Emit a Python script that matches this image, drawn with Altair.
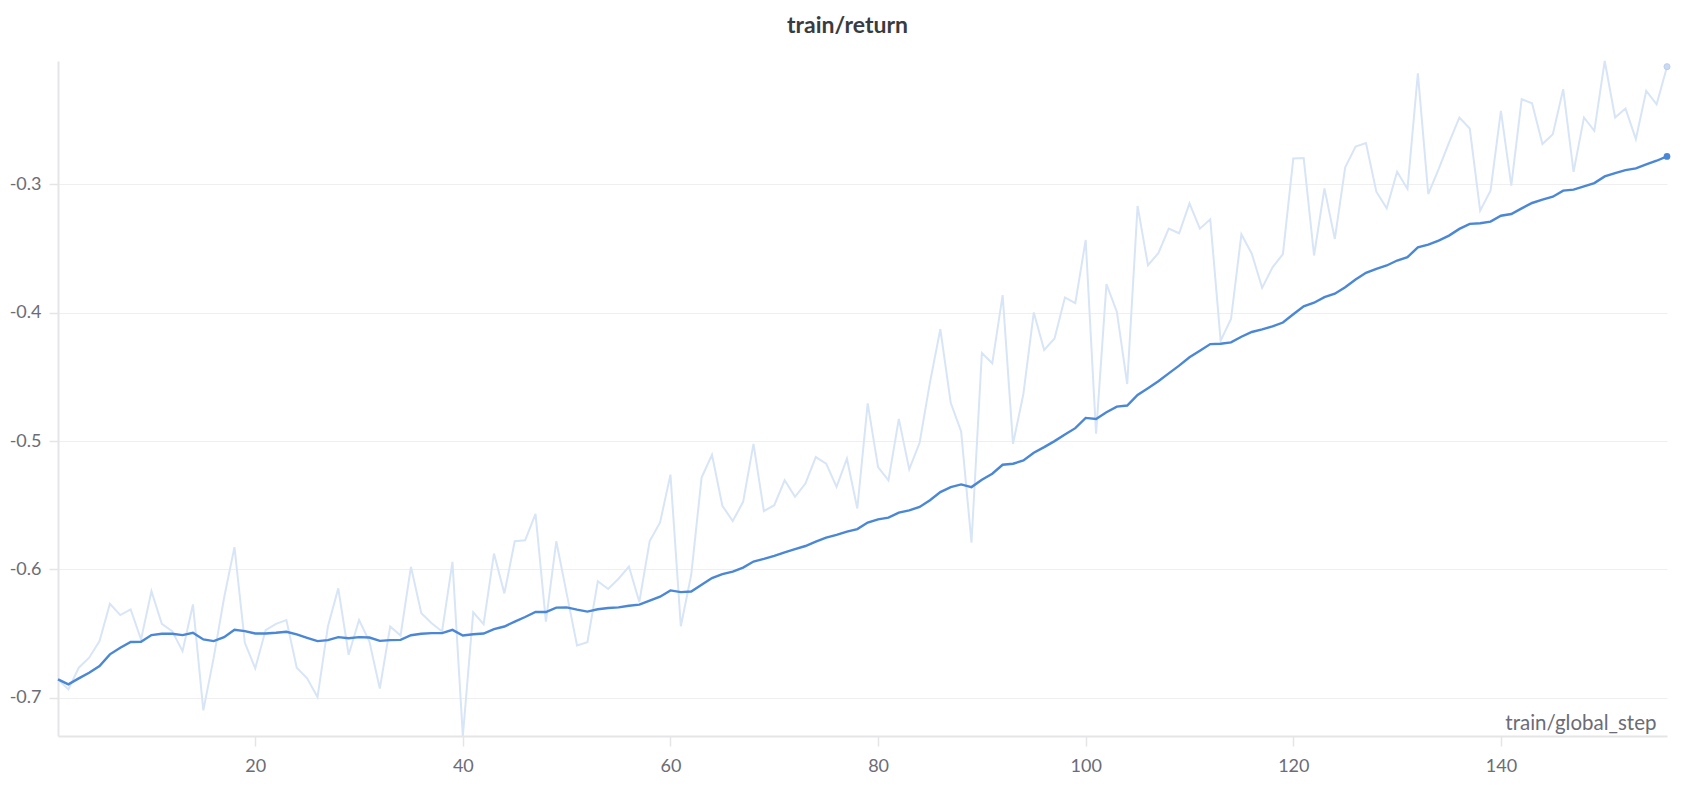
import altair as alt
import pandas as pd

# ---- data ----
steps = list(range(1, 157))

raw_return = [
    -0.6856, -0.6934, -0.6765, -0.6687, -0.6558, -0.6267, -0.6355, -0.6311, -0.6545, -0.6169,
    -0.6423, -0.6480, -0.6636, -0.6272, -0.7097, -0.6687, -0.6220, -0.5826, -0.6571, -0.6770,
    -0.6472, -0.6423, -0.6394, -0.6765, -0.6848, -0.6994, -0.6444, -0.6147, -0.6664, -0.6393,
    -0.6561, -0.6928, -0.6444, -0.6514, -0.5979, -0.6341, -0.6419, -0.6483, -0.5941, -0.7297,
    -0.6333, -0.6426, -0.5876, -0.6186, -0.5780, -0.5773, -0.5566, -0.6406, -0.5780, -0.6186,
    -0.6592, -0.6566, -0.6092, -0.6152, -0.6072, -0.5977, -0.6253, -0.5778, -0.5633, -0.5261,
    -0.6442, -0.6041, -0.5284, -0.5106, -0.5504, -0.5623, -0.5473, -0.5021, -0.5545, -0.5499,
    -0.5305, -0.5434, -0.5331, -0.5124, -0.5176, -0.5357, -0.5137, -0.5525, -0.4706, -0.5202,
    -0.5306, -0.4827, -0.5220, -0.5013, -0.4542, -0.4127, -0.4702, -0.4925, -0.5790, -0.4314,
    -0.4394, -0.3863, -0.5021, -0.4632, -0.3998, -0.4290, -0.4200, -0.3881, -0.3925, -0.3433,
    -0.4943, -0.3777, -0.3992, -0.4555, -0.3168, -0.3630, -0.3536, -0.3345, -0.3381, -0.3148,
    -0.3345, -0.3272, -0.4218, -0.4049, -0.3389, -0.3540, -0.3806, -0.3646, -0.3543, -0.2799,
    -0.2795, -0.3554, -0.3031, -0.3425, -0.2868, -0.2705, -0.2679, -0.3057, -0.3187, -0.2902,
    -0.3036, -0.2135, -0.3075, -0.2881, -0.2674, -0.2479, -0.2565, -0.3205, -0.3049, -0.2427,
    -0.3010, -0.2337, -0.2368, -0.2686, -0.2609, -0.2259, -0.2902, -0.2479, -0.2583, -0.2039,
    -0.2479, -0.2409, -0.2648, -0.2272, -0.2376, -0.2083,
]

smoothed_return = [
    -0.6856, -0.6895, -0.6848, -0.6804, -0.6752, -0.6661, -0.6610, -0.6565, -0.6563, -0.6511,
    -0.6501, -0.6501, -0.6511, -0.6493, -0.6545, -0.6558, -0.6527, -0.6470, -0.6480, -0.6498,
    -0.6498, -0.6493, -0.6485, -0.6506, -0.6532, -0.6558, -0.6550, -0.6527, -0.6535, -0.6527,
    -0.6530, -0.6556, -0.6550, -0.6548, -0.6512, -0.6501, -0.6496, -0.6496, -0.6470, -0.6514,
    -0.6504, -0.6499, -0.6465, -0.6444, -0.6406, -0.6370, -0.6331, -0.6331, -0.6297, -0.6295,
    -0.6313, -0.6328, -0.6310, -0.6300, -0.6295, -0.6282, -0.6274, -0.6243, -0.6212, -0.6163,
    -0.6176, -0.6171, -0.6119, -0.6067, -0.6036, -0.6016, -0.5985, -0.5938, -0.5917, -0.5894,
    -0.5866, -0.5842, -0.5817, -0.5783, -0.5752, -0.5731, -0.5705, -0.5685, -0.5634, -0.5609,
    -0.5596, -0.5557, -0.5539, -0.5513, -0.5461, -0.5397, -0.5358, -0.5337, -0.5358, -0.5301,
    -0.5254, -0.5184, -0.5176, -0.5151, -0.5091, -0.5047, -0.5000, -0.4948, -0.4899, -0.4819,
    -0.4827, -0.4775, -0.4731, -0.4723, -0.4640, -0.4588, -0.4534, -0.4472, -0.4412, -0.4347,
    -0.4296, -0.4244, -0.4241, -0.4231, -0.4187, -0.4150, -0.4130, -0.4106, -0.4076, -0.4012,
    -0.3950, -0.3922, -0.3878, -0.3852, -0.3801, -0.3741, -0.3689, -0.3658, -0.3632, -0.3593,
    -0.3567, -0.3490, -0.3469, -0.3438, -0.3399, -0.3347, -0.3308, -0.3303, -0.3290, -0.3244,
    -0.3231, -0.3187, -0.3145, -0.3119, -0.3096, -0.3049, -0.3041, -0.3016, -0.2990, -0.2938,
    -0.2912, -0.2889, -0.2876, -0.2845, -0.2816, -0.2782,
]

x_ticks = [20, 40, 60, 80, 100, 120, 140]
y_ticks = [-0.7, -0.6, -0.5, -0.4, -0.3]

df = pd.DataFrame({"step": steps, "raw": raw_return, "smooth": smoothed_return})
last = df.tail(1)

FONT = "Source Sans Pro, Lato, sans-serif"
LABEL_COLOR = "#6b6c76"
AXIS_COLOR = "#e5e5e7"
RAW_COLOR = "#d8e5f6"
SMOOTH_COLOR = "#4a87d6"

W, H = 1609, 675

x_scale = alt.Scale(domain=[min(steps), max(steps)], nice=False, zero=False)
y_scale = alt.Scale(domain=[min(raw_return), max(raw_return)], nice=False, zero=False)

x_enc = alt.X(
    "step:Q",
    scale=x_scale,
    axis=alt.Axis(
        values=x_ticks,
        format="d",
        grid=False,
        title="train/global_step",
        titleX=W - 11,
        titleY=-7,
        titleAlign="right",
        titleBaseline="alphabetic",
        titleAnchor="end",
        titleFont=FONT,
        titleFontSize=20.5,
        titleFontWeight="normal",
        titleColor=LABEL_COLOR,
        labelPadding=11,
        tickSize=10,
    ),
)

y_axis = alt.Axis(
    values=y_ticks,
    labelExpr="replace(format(datum.value, '.1f'), '\u2212', '-')",
    grid=True,
    gridColor="#efeff1",
    gridWidth=1,
    title=None,
    tickSize=9,
    labelPadding=8,
)

raw_line = alt.Chart(df).mark_line(color=RAW_COLOR, strokeWidth=2).encode(
    x=x_enc,
    y=alt.Y("raw:Q", scale=y_scale, axis=y_axis),
)

smooth_line = alt.Chart(df).mark_line(color=SMOOTH_COLOR, strokeWidth=2.4).encode(
    x=alt.X("step:Q", scale=x_scale),
    y=alt.Y("smooth:Q", scale=y_scale),
)

raw_end = alt.Chart(last).mark_point(
    filled=True, color="#c9daf2", size=36, opacity=1, stroke="#b9cfee", strokeWidth=1
).encode(
    x=alt.X("step:Q", scale=x_scale),
    y=alt.Y("raw:Q", scale=y_scale),
)

smooth_end = alt.Chart(last).mark_point(
    filled=True, color=SMOOTH_COLOR, size=45, opacity=1
).encode(
    x=alt.X("step:Q", scale=x_scale),
    y=alt.Y("smooth:Q", scale=y_scale),
)

chart = (
    alt.layer(raw_line, smooth_line, raw_end, smooth_end)
    .properties(
        width=W,
        height=H,
        padding={"left": 50, "top": 53, "right": 15, "bottom": 44},
        autosize=alt.AutoSizeParams(type="none"),
        title=alt.TitleParams(
            "train/return",
            anchor="middle",
            font=FONT,
            fontSize=23,
            fontWeight="bold",
            color="#3a3b40",
            baseline="alphabetic",
            offset=1,
            dx=-15,
        ),
    )
    .configure_view(stroke=None)
    .configure_axis(
        domainColor=AXIS_COLOR,
        domainWidth=2,
        tickColor=AXIS_COLOR,
        tickWidth=1.5,
        labelFont=FONT,
        labelFontSize=18,
        labelColor=LABEL_COLOR,
    )
)

chart.save("out.html", embed_options={"renderer": "svg", "actions": False})
